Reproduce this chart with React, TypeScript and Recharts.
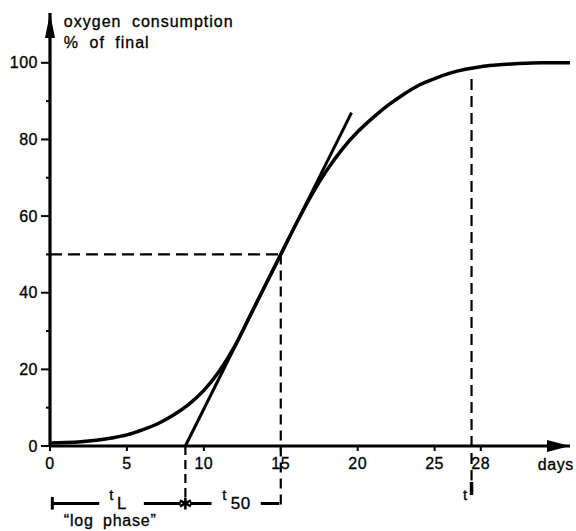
import React from "react";
import { LineChart, Line, XAxis, YAxis, ReferenceLine, ReferenceDot } from "recharts";

const FONT = "'Liberation Sans', Arial, Helvetica, sans-serif";

// growth curve (days, % of final)
const days = [0, 1, 2, 3, 4, 5, 6, 7, 8, 9, 10, 11, 12, 13, 14, 15, 16, 17, 18, 19, 20, 21, 22, 23, 24, 25, 26, 27, 28, 29, 30, 31, 32, 33, 33.8];
const consumption = [0.8, 0.9, 1.1, 1.5, 2.1, 2.9, 4.2, 5.8, 8, 10.8, 14.5, 19.5, 26, 34, 42, 50, 58, 65.5, 72, 77.5, 82, 85.7, 89, 91.8, 94.2, 95.9, 97.3, 98.3, 99, 99.4, 99.7, 99.9, 100, 100, 100];

// tangent through the midpoint
const tangentDays = [8.8, 19.6];
const tangentValues = [0, 87];

const xTicks = [0, 5, 10, 15, 20, 25, 28];
const yTicks = [0, 10, 20, 30, 40, 50, 60, 70, 80, 90, 100];

const tL = 8.8;
const t50 = 15;
const tEnd = 27.4;

const curveData = days.map((d, i) => ({ d, v: consumption[i] }));
const tangentData = tangentDays.map((d, i) => ({ d, v: tangentValues[i] }));

const textStyle = { fontFamily: FONT, fill: "#000", stroke: "#000", strokeWidth: 0.3 };

const YTick = (props: any) => {
  const { x, y, payload } = props;
  const major = payload.value % 20 === 0;
  return (
    <g>
      <line x1={x - (major ? 9 : 4)} x2={x} y1={y} y2={y} stroke="#000" strokeWidth={2} />
      {major && (
        <text x={x - 12} y={y} dy={5.5} textAnchor="end" fontSize={16} letterSpacing={0.5} {...textStyle}>
          {payload.value}
        </text>
      )}
    </g>
  );
};

const XTick = (props: any) => {
  const { x, y, payload } = props;
  return (
    <text x={x} y={y} dy={12} textAnchor="middle" fontSize={16} letterSpacing={0.5} {...textStyle}>
      {payload.value}
    </text>
  );
};

const label = (s: string, size = 16, anchor: "start" | "end" | "middle" = "start", spacing = 0.6, words = 0) => (p: any) => (
  <text x={p.cx} y={p.cy} fontSize={size} textAnchor={anchor} letterSpacing={spacing} wordSpacing={words} {...textStyle}>
    {s}
  </text>
);

const star = (p: any) => (
  <g stroke="#000" strokeWidth={2.6}>
    <line x1={p.cx} y1={p.cy - 6} x2={p.cx} y2={p.cy + 6} />
    <line x1={p.cx - 5.5} y1={p.cy - 3} x2={p.cx + 5.5} y2={p.cy + 3} />
    <line x1={p.cx - 5.5} y1={p.cy + 3} x2={p.cx + 5.5} y2={p.cy - 3} />
  </g>
);

const dash = { stroke: "#000", strokeWidth: 2.2, strokeDasharray: "12 6" };
const solid = { stroke: "#000", strokeWidth: 3 };

export default function App() {
  const bracketY = -15;
  return (
    <div style={{ position: "absolute", left: 0, top: 0, background: "#fff" }}>
      <LineChart width={576} height={531} margin={{ top: 13, right: 6, bottom: 55, left: 0 }}>
        <XAxis
          dataKey="d"
          type="number"
          domain={[0, 33.8]}
          ticks={xTicks}
          interval={0}
          height={30}
          axisLine={{ stroke: "#000", strokeWidth: 3.2 }}
          tickLine={{ stroke: "#000", strokeWidth: 2 }}
          tickSize={5}
          tickMargin={6}
          tick={<XTick />}
        />
        <YAxis
          type="number"
          domain={[0, 113]}
          ticks={yTicks}
          interval={0}
          width={50}
          axisLine={{ stroke: "#000", strokeWidth: 3.2 }}
          tickLine={false}
          tickSize={0}
          tickMargin={0}
          tick={<YTick />}
        />

        {/* dashed guides */}
        <ReferenceLine segment={[{ x: 0, y: 50 }, { x: t50, y: 50 }]} ifOverflow="visible" {...dash} />
        <ReferenceLine segment={[{ x: t50, y: 50 }, { x: t50, y: -16.2 }]} ifOverflow="visible" {...dash} strokeDasharray="10 6" />
        <ReferenceLine segment={[{ x: tL, y: 0 }, { x: tL, y: -13.5 }]} ifOverflow="visible" {...dash} strokeDasharray="9 5" />
        <ReferenceLine segment={[{ x: tEnd, y: 95.8 }, { x: tEnd, y: -9 }]} ifOverflow="visible" {...dash} strokeDasharray="11 6" />
        <ReferenceLine segment={[{ x: tEnd, y: -9.4 }, { x: tEnd, y: -12.8 }]} ifOverflow="visible" stroke="#000" strokeWidth={3.5} />

        {/* bracket row */}
        <ReferenceLine segment={[{ x: 0.15, y: -13.3 }, { x: 0.15, y: -16.6 }]} ifOverflow="visible" {...solid} />
        <ReferenceLine segment={[{ x: 0.15, y: bracketY }, { x: 3.2, y: bracketY }]} ifOverflow="visible" {...solid} />
        <ReferenceLine segment={[{ x: 6.1, y: bracketY }, { x: 8.5, y: bracketY }]} ifOverflow="visible" {...solid} />
        <ReferenceLine segment={[{ x: 9.1, y: bracketY }, { x: 10.5, y: bracketY }]} ifOverflow="visible" {...solid} />
        <ReferenceLine segment={[{ x: 13.7, y: bracketY }, { x: 14.9, y: bracketY }]} ifOverflow="visible" {...solid} />
        <ReferenceDot x={tL} y={bracketY} ifOverflow="visible" shape={star} />
        <ReferenceDot x={3.85} y={-14.1} ifOverflow="visible" shape={label("t", 15)} />
        <ReferenceDot x={4.35} y={-16.4} ifOverflow="visible" shape={label("L", 17)} />
        <ReferenceDot x={11.2} y={-14.1} ifOverflow="visible" shape={label("t", 15)} />
        <ReferenceDot x={11.75} y={-16.4} ifOverflow="visible" shape={label("50", 17)} />
        <ReferenceDot x={0.9} y={-20.8} ifOverflow="visible" shape={label("\u201clog phase\u201d", 16, "start", 0.8, 4)} />
        <ReferenceDot x={27.15} y={-14} ifOverflow="visible" shape={label("t", 15, "end")} />
        <ReferenceDot x={31.7} y={-6.3} ifOverflow="visible" shape={label("days", 16)} />

        {/* axis title */}
        <ReferenceDot x={0.9} y={109.3} ifOverflow="visible" shape={label("oxygen consumption", 16, "start", 1, 5)} />
        <ReferenceDot x={0.9} y={103.8} ifOverflow="visible" shape={label("% of final", 16, "start", 1, 5)} />

        {/* arrowheads */}
        <ReferenceDot
          x={33.8}
          y={0}
          ifOverflow="visible"
          shape={(p: any) => <polygon points={`${p.cx},${p.cy} ${p.cx - 23},${p.cy - 6} ${p.cx - 23},${p.cy + 6}`} fill="#000" />}
        />
        <ReferenceDot
          x={0}
          y={113}
          ifOverflow="visible"
          shape={(p: any) => <polygon points={`${p.cx},${p.cy} ${p.cx - 5},${p.cy + 25} ${p.cx + 5},${p.cy + 25}`} fill="#000" />}
        />

        <Line data={tangentData} dataKey="v" type="linear" stroke="#000" strokeWidth={3} dot={false} isAnimationActive={false} />
        <Line data={curveData} dataKey="v" type="monotone" stroke="#000" strokeWidth={3.5} dot={false} isAnimationActive={false} />
      </LineChart>
    </div>
  );
}
